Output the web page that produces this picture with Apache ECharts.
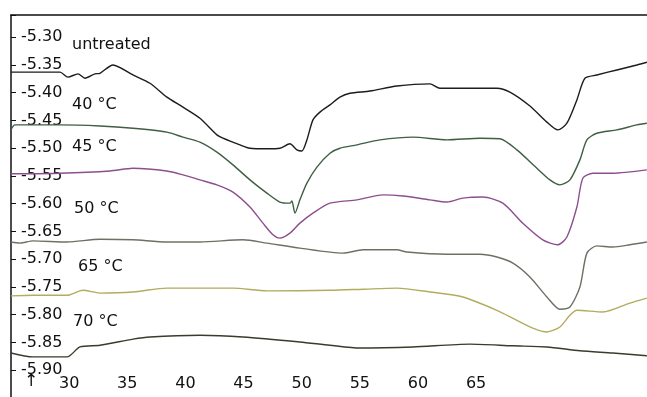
<!DOCTYPE html>
<html>
<head>
<meta charset="utf-8">
<script src="https://cdn.jsdelivr.net/npm/echarts@6/dist/echarts.min.js"></script>
<style>
  html, body { margin: 0; padding: 0; background: #fff; }
  #chart { width: 647px; height: 397px; }
</style>
</head>
<body>
<div id="chart"></div>
<script>
// temperature (°C) / heat-flow pairs
const untreated = [
  [25.00, -5.363], [29.21, -5.363], [29.90, -5.372], [30.76, -5.366], [31.36, -5.374],
  [32.22, -5.366], [32.65, -5.365], [33.77, -5.350], [35.49, -5.368], [36.95, -5.383],
  [38.41, -5.408], [39.79, -5.426], [41.25, -5.446], [42.71, -5.476], [43.23, -5.482],
  [44.69, -5.494], [45.55, -5.500], [47.01, -5.501], [48.13, -5.500], [48.99, -5.492],
  [49.59, -5.503], [50.02, -5.505], [50.45, -5.485], [50.97, -5.449], [51.57, -5.435],
  [52.43, -5.422], [53.29, -5.408], [54.15, -5.401], [55.87, -5.397], [58.19, -5.388],
  [61.03, -5.384], [61.89, -5.392], [63.87, -5.392], [66.79, -5.392], [67.91, -5.399],
  [69.63, -5.424], [71.09, -5.453], [72.03, -5.467], [72.81, -5.455], [73.67, -5.413],
  [74.36, -5.374], [75.39, -5.368], [77.11, -5.359], [78.83, -5.350], [79.69, -5.345]
]
const t40 = [
  [25.00, -5.467], [25.34, -5.458], [29.21, -5.458], [32.65, -5.460], [35.49, -5.464],
  [38.41, -5.471], [39.79, -5.480], [41.25, -5.489], [42.71, -5.507], [44.09, -5.530],
  [45.55, -5.557], [47.01, -5.581], [48.13, -5.597], [48.99, -5.599], [49.16, -5.595],
  [49.42, -5.617], [49.85, -5.593], [50.45, -5.563], [51.31, -5.534], [52.43, -5.509],
  [53.29, -5.500], [54.75, -5.494], [56.73, -5.485], [59.57, -5.480], [62.49, -5.485],
  [65.33, -5.482], [67.05, -5.483], [68.51, -5.503], [70.23, -5.536], [71.35, -5.557],
  [72.21, -5.566], [73.07, -5.557], [73.93, -5.521], [74.53, -5.485], [75.39, -5.473],
  [77.11, -5.467], [78.83, -5.458], [79.69, -5.455]
]
const t45 = [
  [25.00, -5.546], [29.21, -5.545], [33.51, -5.541], [35.49, -5.536], [38.41, -5.541],
  [39.79, -5.548], [41.25, -5.557], [42.71, -5.566], [44.09, -5.579], [45.55, -5.606],
  [46.67, -5.635], [47.53, -5.656], [48.13, -5.662], [48.99, -5.653], [49.85, -5.635],
  [50.97, -5.617], [52.43, -5.599], [54.75, -5.593], [56.99, -5.584], [58.71, -5.586],
  [61.03, -5.593], [62.49, -5.597], [63.87, -5.590], [65.58, -5.588], [67.30, -5.599],
  [69.02, -5.635], [70.74, -5.665], [72.03, -5.674], [72.81, -5.660], [73.67, -5.606],
  [74.18, -5.554], [75.04, -5.545], [76.76, -5.545], [79.69, -5.539]
]
const t50 = [
  [25.00, -5.669], [25.77, -5.671], [26.89, -5.667], [29.82, -5.669], [32.65, -5.664],
  [35.49, -5.665], [38.41, -5.669], [41.25, -5.669], [44.95, -5.665], [47.01, -5.671],
  [49.85, -5.680], [53.55, -5.689], [55.27, -5.683], [58.19, -5.683], [59.05, -5.687],
  [62.49, -5.691], [65.33, -5.691], [66.79, -5.696], [68.17, -5.707], [69.63, -5.732],
  [71.09, -5.768], [72.21, -5.790], [73.07, -5.786], [73.93, -5.750], [74.53, -5.689],
  [75.39, -5.676], [76.76, -5.678], [78.23, -5.674], [79.69, -5.669]
]
const t65 = [
  [25.00, -5.766], [26.89, -5.765], [29.82, -5.765], [31.19, -5.756], [32.65, -5.761],
  [35.49, -5.759], [38.41, -5.752], [44.09, -5.752], [47.01, -5.757], [52.43, -5.756],
  [55.27, -5.754], [58.19, -5.752], [61.03, -5.759], [63.87, -5.768], [66.79, -5.792],
  [68.51, -5.810], [69.88, -5.824], [71.09, -5.831], [72.21, -5.822], [73.07, -5.801],
  [73.67, -5.792], [75.90, -5.795], [78.23, -5.779], [79.69, -5.770]
]
const t70 = [
  [25.00, -5.869], [26.89, -5.876], [29.82, -5.876], [30.93, -5.858], [32.65, -5.855],
  [35.49, -5.844], [36.95, -5.840], [41.25, -5.837], [44.95, -5.840], [49.85, -5.849],
  [52.43, -5.855], [55.01, -5.860], [59.57, -5.858], [64.47, -5.853], [68.17, -5.856],
  [71.09, -5.858], [73.93, -5.865], [76.76, -5.869], [79.69, -5.874]
]
const seriesNames = ['untreated', '40 °C', '45 °C', '50 °C', '65 °C', '70 °C']
const seriesData = [untreated, t40, t45, t50, t65, t70]
const seriesColors = ['#1c1c1c', '#3f5e42', '#8c4f8e', '#6c7163', '#b3ab5e', '#3b3a2b']

const font = 'DejaVu Sans'
const chart = echarts.init(document.getElementById('chart'), null, { renderer: 'canvas' })

// label positions for the curve captions (pixels)
const captionPos = [[72, 46], [72, 106], [72, 148], [74, 210], [78, 268], [73, 323]]

chart.setOption({
  animation: false,
  grid: { left: 11, right: 0, top: 15, bottom: -1, outerBoundsMode: 'none', containLabel: false },
  xAxis: [{
    type: 'value',
    min: 25,
    max: 79.7,
    interval: 5,
    axisLine: { show: false },
    axisTick: { show: false },
    splitLine: { show: false },
    axisLabel: {
      inside: true,
      margin: 6,
      fontFamily: font,
      fontSize: 16,
      color: '#111',
      formatter: v => (v >= 30 && v <= 65 ? String(Math.round(v)) : '')
    }
  }, {
    type: 'value',
    position: 'top',
    min: 25,
    max: 79.7,
    axisLine: { show: true, lineStyle: { color: '#111', width: 1.5 } },
    axisTick: { show: false },
    axisLabel: { show: false },
    splitLine: { show: false }
  }],
  yAxis: {
    type: 'value',
    min: -5.95,
    max: -5.26,
    interval: 0.05,
    axisLine: { show: true, lineStyle: { color: '#111', width: 1.5 } },
    axisTick: { show: true, inside: true, length: 5, lineStyle: { color: '#111' } },
    splitLine: { show: false },
    axisLabel: {
      inside: true,
      margin: 10,
      fontFamily: font,
      fontSize: 16,
      color: '#111',
      formatter: v => (v <= -5.295 && v >= -5.905 ? v.toFixed(2) : '')
    }
  },
  graphic: captionPos.map((p, i) => ({
    type: 'text',
    left: p[0],
    top: p[1] - 9,
    style: { text: seriesNames[i], fontFamily: font, fontSize: 16, fill: '#111' }
  })).concat([{
    type: 'text',
    left: 24,
    top: 373,
    style: { text: '↑', fontFamily: font, fontSize: 17, fill: '#111' }
  }]),
  series: seriesData.map((d, i) => ({
    name: seriesNames[i],
    type: 'line',
    data: d,
    showSymbol: false,
    smooth: 0.25,
    lineStyle: { color: seriesColors[i], width: 1.4 }
  }))
})
</script>
</body>
</html>
